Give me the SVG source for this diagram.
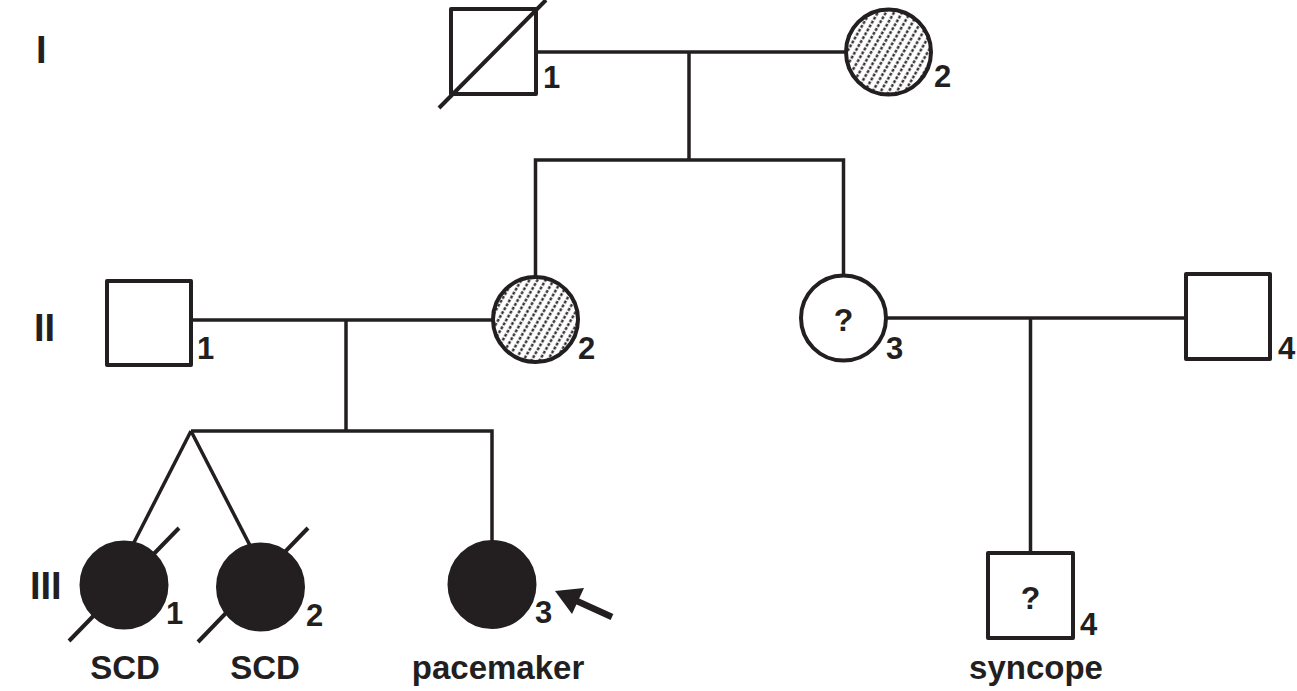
<svg xmlns="http://www.w3.org/2000/svg" width="1297" height="691" viewBox="0 0 1297 691">
  <defs>
    <!-- dotted diagonal hatching for carrier-shaded symbols -->
    <pattern id="hatch" patternUnits="userSpaceOnUse" width="7" height="4.5" patternTransform="rotate(30)">
      <rect width="7" height="4.5" fill="#fff"/>
      <line x1="3.5" y1="0" x2="3.5" y2="4.5" stroke="#231f20" stroke-width="2.2" stroke-dasharray="3 1.5"/>
    </pattern>
  </defs>
  <style>
    .sym { stroke: #231f20; stroke-width: 4; stroke-linejoin: round; }
    .open { fill: #fff; }
    .aff { fill: #231f20; }
    .carrier { fill: url(#hatch); }
    .line { stroke: #231f20; stroke-width: 3.5; fill: none; }
    .dead { stroke: #231f20; stroke-width: 4; }
    .num { font-family: "Liberation Sans", Arial, sans-serif; font-weight: bold; font-size: 31px; fill: #231f20; }
    .gen { font-family: "Liberation Sans", Arial, sans-serif; font-weight: bold; font-size: 38px; fill: #231f20; }
    .note { font-family: "Liberation Sans", Arial, sans-serif; font-weight: bold; font-size: 33px; fill: #231f20; text-anchor: middle; }
    .q { font-family: "Liberation Sans", Arial, sans-serif; font-weight: bold; font-size: 32px; fill: #231f20; text-anchor: middle; }
  </style>
  <rect width="1297" height="691" fill="#fff"/>

  <!-- generation labels -->
  <g id="generations">
    <text class="gen" x="36" y="63">I</text>
    <text class="gen" x="34" y="341">II</text>
    <text class="gen" x="30" y="599">III</text>
  </g>

  <!-- connectors: marriages, descents, sibships -->
  <g id="connectors">
    <line class="line" x1="536" y1="52" x2="846" y2="52"/>
    <line class="line" x1="689" y1="52" x2="689" y2="160"/>
    <polyline class="line" points="535.5,277 535.5,160 843.5,160 843.5,275"/>

    <line class="line" x1="191" y1="320" x2="493" y2="320"/>
    <line class="line" x1="346" y1="320" x2="346" y2="431"/>
    <polyline class="line" points="191,431 492,431 492,542"/>
    <line class="line" x1="191" y1="431" x2="125" y2="560"/>
    <line class="line" x1="191" y1="431" x2="259" y2="563"/>

    <line class="line" x1="886" y1="318" x2="1186" y2="318"/>
    <line class="line" x1="1030.5" y1="318" x2="1030.5" y2="553"/>
  </g>

  <!-- generation I -->
  <g id="I-1">
    <rect class="sym open" x="451" y="9" width="85" height="85"/>
    <line class="dead" x1="439" y1="108" x2="546" y2="0"/>
    <text class="num" x="543" y="88">1</text>
  </g>
  <g id="I-2">
    <circle class="sym carrier" cx="888.5" cy="52" r="42.5"/>
    <text class="num" x="934" y="87">2</text>
  </g>

  <!-- generation II -->
  <g id="II-1">
    <rect class="sym open" x="107" y="281" width="84" height="84"/>
    <text class="num" x="197" y="359">1</text>
  </g>
  <g id="II-2">
    <circle class="sym carrier" cx="535.5" cy="319.5" r="42.5"/>
    <text class="num" x="578" y="359">2</text>
  </g>
  <g id="II-3">
    <circle class="sym open" cx="843.5" cy="318" r="42.5"/>
    <text class="q" x="843.5" y="331">?</text>
    <text class="num" x="886" y="359">3</text>
  </g>
  <g id="II-4">
    <rect class="sym open" x="1186" y="274" width="84" height="85"/>
    <text class="num" x="1278" y="359">4</text>
  </g>

  <!-- generation III -->
  <g id="III-1">
    <circle class="sym aff" cx="124" cy="585" r="42.5"/>
    <line class="dead" x1="69" y1="641" x2="179" y2="528"/>
    <text class="num" x="166" y="624">1</text>
    <text class="note" x="125" y="679">SCD</text>
  </g>
  <g id="III-2">
    <circle class="sym aff" cx="260.5" cy="587" r="42.5"/>
    <line class="dead" x1="198" y1="642" x2="308" y2="528"/>
    <text class="num" x="306" y="626">2</text>
    <text class="note" x="265" y="679">SCD</text>
  </g>
  <g id="III-3">
    <circle class="sym aff" cx="492" cy="584.5" r="42.5"/>
    <text class="num" x="535" y="623">3</text>
    <text class="note" x="498" y="679">pacemaker</text>
    <!-- proband arrow -->
    <line x1="612" y1="617" x2="568" y2="597" stroke="#231f20" stroke-width="6.5"/>
    <polygon points="555,591 584,588 572,614" fill="#231f20"/>
  </g>
  <g id="III-4">
    <rect class="sym open" x="988" y="553" width="85" height="85"/>
    <text class="q" x="1030.5" y="609">?</text>
    <text class="num" x="1080" y="635">4</text>
    <text class="note" x="1036" y="679">syncope</text>
  </g>
</svg>
